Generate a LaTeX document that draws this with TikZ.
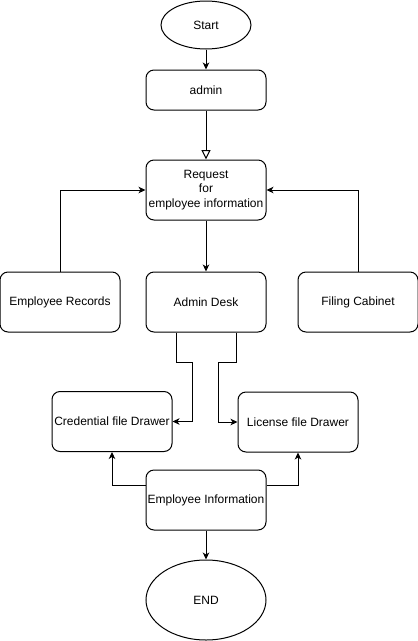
\documentclass[tikz,border=0pt]{standalone}
\usepackage{fontspec}
\setmainfont{Liberation Sans}
\usetikzlibrary{arrows.meta,shapes.geometric,calc}
\begin{document}
\begin{tikzpicture}[x=1pt,y=-1pt,
  every node/.style={font=\fontsize{12pt}{14.5pt}\selectfont, text=black},
  box/.style={draw, line width=1pt, rounded corners=8pt, minimum width=120pt, minimum height=60pt, inner sep=0pt, align=center},
  oval/.style={draw, line width=1pt, ellipse, inner sep=0pt},
  arr/.style={draw, line width=1pt, -{Stealth[length=7pt,width=6.5pt,inset=2pt]}},
  openarr/.style={draw, line width=1pt, -{Triangle[open,length=9.5pt,width=9pt]}}
]
\useasboundingbox (0,0) rectangle (418,641);
\node[oval, minimum width=90pt, minimum height=48pt] (start) at (206,25) {Start};
\node[box, minimum height=40pt] (admin) at (206,90) {admin};
\node[box] (req) at (206,190) {Request\\for\\employee information};
\node[box] (ad) at (206,302) {Admin Desk};
\node[box] (er) at (60,302) {Employee Records};
\node[box] (fc) at (358,302) {Filing Cabinet};
\node[box] (cred) at (112,421.5) {Credential file Drawer};
\node[box] (lic) at (298,422) {License file Drawer};
\node[box] (ei) at (206,500) {Employee Information};
\node[oval, minimum width=120pt, minimum height=80pt] (end) at (206,600) {END};

\coordinate (l1) at (192.5,362);
\coordinate (r1) at (218.5,362);

\draw[arr] (start) -- (admin);
\draw[openarr] (admin) -- (req);
\draw[arr] (req) -- (ad);
\draw[arr] (er.north) |- (req.west);
\draw[arr] (fc.north) |- (req.east);
\draw[arr] ([xshift=-30pt]ad.south) |- (l1) |- (cred.east);
\draw[arr] ([xshift=30pt]ad.south) |- (r1) |- (lic.west);
\draw[arr] ([yshift=15pt]ei.west) -| (cred.south);
\draw[arr] ([yshift=15pt]ei.east) -| (lic.south);
\draw[arr] (ei) -- (end);
\end{tikzpicture}
\end{document}
